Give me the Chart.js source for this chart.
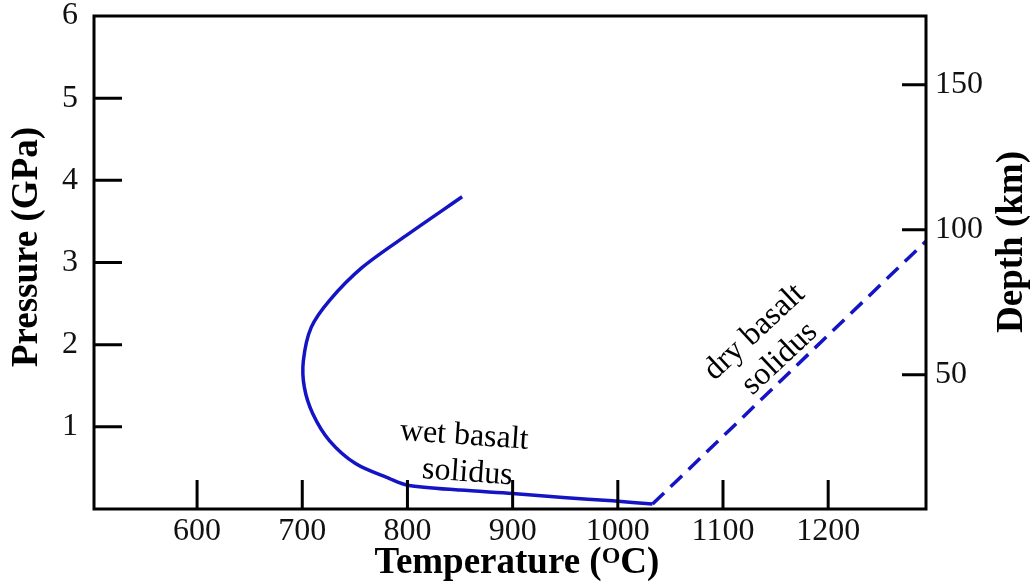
<!DOCTYPE html>
<html>
<head>
<meta charset="utf-8">
<script src="https://cdn.jsdelivr.net/npm/chart.js@4.4.1/dist/chart.umd.min.js"></script>
<style>
  html, body { margin: 0; padding: 0; background: #fff; }
  canvas { display: block; }
</style>
</head>
<body>
<canvas id="c" width="1033" height="585"></canvas>
<script>
/* ── Datos ──────────────────────────────────────────────── */
const tempTicks = [600, 700, 800, 900, 1000, 1100, 1200];   // °C
const pressureTicks = [1, 2, 3, 4, 5, 6];                   // GPa
const depthTicks = [50, 100, 150];                          // km

// solidus basalto húmedo (curva continua)
const wetTemp = [852, 799, 757, 726, 708.5, 701, 702, 710, 726, 751, 783, 800, 850, 900, 948, 995, 1033];
const wetPressure = [3.80, 3.33, 2.94, 2.54, 2.21, 1.80, 1.48, 1.16, 0.83, 0.55, 0.37, 0.29, 0.23, 0.19, 0.14, 0.10, 0.06];

// solidus basalto seco (discontinua)
const dryTemp = [1033, 1293];
const dryPressure = [0.06, 3.26];

/* --- Estilo ---------- */
const SERIF = '"Liberation Serif", "DejaVu Serif", serif';
const BLUE = "#1414c4";

const toPoints = (xs, ys) => xs.map((x, i) => ({ x, y: ys[i] }));

/* ─── Plugin: marco, ticks internos, títulos y rótulos ─────────── */
const framePlugin = {
  id: "frame",
  afterDraw(chart, _args, opts) {
    const { ctx, chartArea: a, scales } = chart;
    ctx.save();

    // marco completo
    ctx.strokeStyle = "#000";
    ctx.lineWidth = 3;
    ctx.strokeRect(a.left, a.top, a.right - a.left, a.bottom - a.top);

    // ticks hacia dentro
    ctx.beginPath();
    tempTicks.forEach((v) => {
      const px = scales.x.getPixelForValue(v);
      ctx.moveTo(px, a.bottom);
      ctx.lineTo(px, a.bottom - 29);
    });
    pressureTicks.forEach((v) => {
      if (v >= scales.y.max) return; // el 6 coincide con el borde
      const py = scales.y.getPixelForValue(v);
      ctx.moveTo(a.left, py);
      ctx.lineTo(a.left + 28, py);
    });
    depthTicks.forEach((v) => {
      const py = scales.y2.getPixelForValue(v);
      ctx.moveTo(a.right, py);
      ctx.lineTo(a.right - 24, py);
    });
    ctx.stroke();

    ctx.fillStyle = "#000";

    // Temperature (ºC) con superíndice
    const p1 = "Temperature (", sup = "O", p2 = "C)";
    ctx.font = `bold 37px ${SERIF}`;
    const w1 = ctx.measureText(p1).width;
    const w3 = ctx.measureText(p2).width;
    ctx.font = `bold 24px ${SERIF}`;
    const w2 = ctx.measureText(sup).width;
    let x0 = 517 - (w1 + w2 + w3) / 2;
    const base = 573;
    ctx.textAlign = "left";
    ctx.textBaseline = "alphabetic";
    ctx.font = `bold 37px ${SERIF}`;
    ctx.fillText(p1, x0, base);
    ctx.font = `bold 24px ${SERIF}`;
    ctx.fillText(sup, x0 + w1, base - 10);
    ctx.font = `bold 37px ${SERIF}`;
    ctx.fillText(p2, x0 + w1 + w2, base);

    // títulos verticales
    const vTitle = (text, cx, cy) => {
      ctx.save();
      ctx.translate(cx, cy);
      ctx.rotate(-Math.PI / 2);
      ctx.textAlign = "center";
      ctx.textBaseline = "middle";
      ctx.font = `bold 37px ${SERIF}`;
      ctx.fillText(text, 0, 0);
      ctx.restore();
    };
    vTitle("Pressure (GPa)", 27, 247);
    vTitle("Depth (km)", 1012, 242);

    // rótulos de las curvas (posición en unidades de datos)
    ctx.font = `32px ${SERIF}`;
    ctx.textAlign = "center";
    ctx.textBaseline = "middle";
    (opts.labels || []).forEach((l) => {
      const px = scales.x.getPixelForValue(l.t);
      const py = scales.y.getPixelForValue(l.p);
      ctx.save();
      ctx.translate(px, py);
      ctx.rotate((l.rot * Math.PI) / 180);
      ctx.fillText(l.text, 0, 0);
      ctx.restore();
    });

    ctx.restore();
  },
};

// tamaño fijo de cada eje, sin relleno extra por las etiquetas
const fixedSize = (size, horizontal) => (scale) => {
  if (horizontal) {
    scale.height = size;
    scale.paddingLeft = 0;
    scale.paddingRight = 0;
  } else {
    scale.width = size;
    scale.paddingTop = 0;
    scale.paddingBottom = 0;
  }
};

const tickFont = { family: SERIF, size: 32 };
const plain = (v) => String(v);

new Chart(document.getElementById("c"), {
  type: "scatter",
  data: {
    datasets: [
      {
        label: "wet basalt solidus",
        data: toPoints(wetTemp, wetPressure),
        showLine: true,
        borderColor: BLUE,
        borderWidth: 3.5,
        pointRadius: 0,
        tension: 0.3,
        fill: false,
      },
      {
        label: "dry basalt solidus",
        data: toPoints(dryTemp, dryPressure),
        showLine: true,
        borderColor: BLUE,
        borderWidth: 3.5,
        borderDash: [16, 9],
        pointRadius: 0,
        fill: false,
      },
    ],
  },
  options: {
    responsive: false,
    animation: false,
    layout: { padding: { top: 16, left: 0, right: 0, bottom: 0 } },
    plugins: {
      legend: { display: false },
      tooltip: { enabled: false },
      frame: {
        labels: [
          { text: "wet basalt", t: 854, p: 0.89, rot: 4 },
          { text: "solidus", t: 857, p: 0.44, rot: 4 },
          { text: "dry basalt", t: 1130, p: 2.15, rot: -43 },
          { text: "solidus", t: 1154, p: 1.83, rot: -43 },
        ],
      },
    },
    scales: {
      x: {
        type: "linear",
        position: "bottom",
        min: 502,
        max: 1293,
        afterBuildTicks: (s) => { s.ticks = tempTicks.map((v) => ({ value: v })); },
        afterFit: fixedSize(76, true),
        grid: { display: false, drawTicks: false },
        border: { display: false },
        ticks: { padding: 3, color: "#111", font: tickFont, callback: plain },
      },
      y: {
        type: "linear",
        position: "left",
        min: 0,
        max: 6,
        afterBuildTicks: (s) => { s.ticks = pressureTicks.map((v) => ({ value: v })); },
        afterFit: fixedSize(94, false),
        grid: { display: false, drawTicks: false },
        border: { display: false },
        ticks: { padding: 16, color: "#111", font: tickFont, callback: plain },
      },
      y2: {
        type: "linear",
        position: "right",
        min: 3.7,
        max: 173.7,
        afterBuildTicks: (s) => { s.ticks = depthTicks.map((v) => ({ value: v })); },
        afterFit: fixedSize(107, false),
        grid: { display: false, drawTicks: false },
        border: { display: false },
        ticks: { padding: 9, color: "#111", font: tickFont, callback: plain },
      },
    },
  },
  plugins: [framePlugin],
});
</script>
</body>
</html>
